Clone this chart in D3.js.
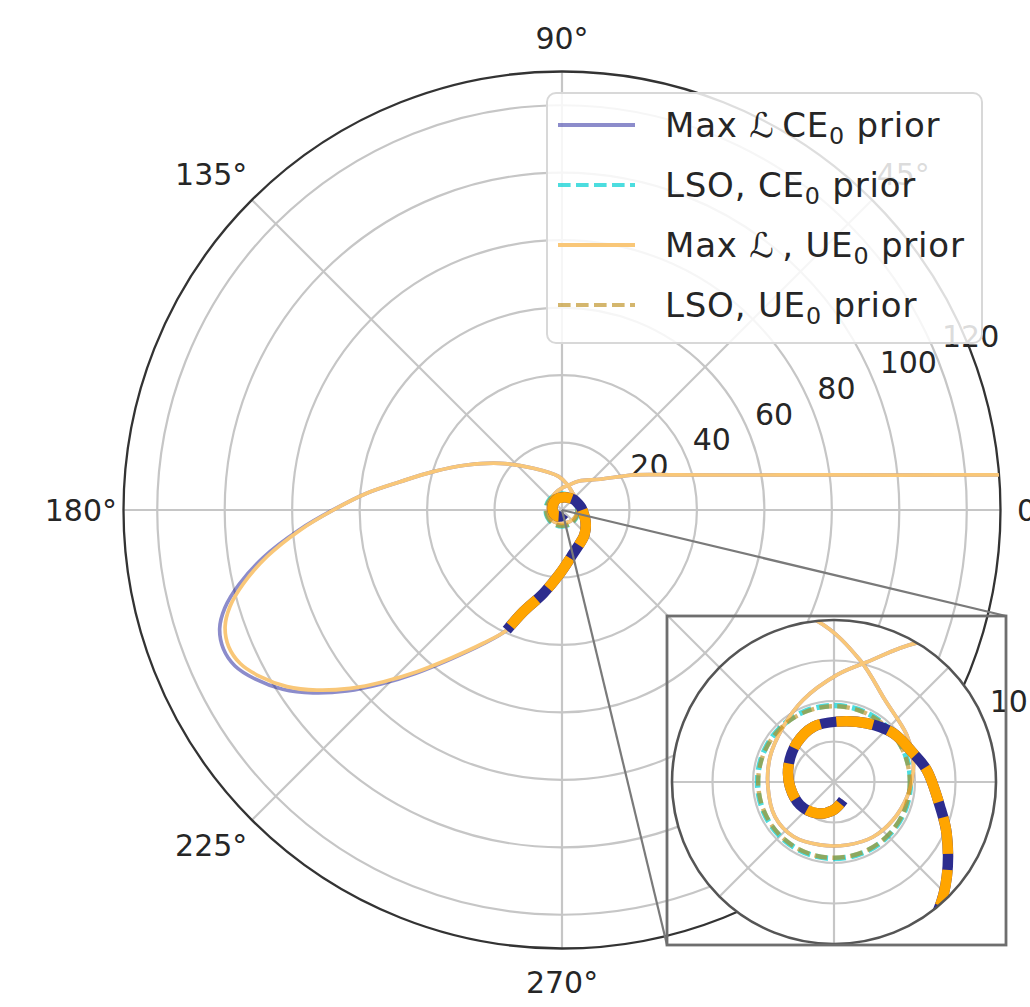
<!DOCTYPE html>
<html>
<head>
<meta charset="utf-8">
<script src="https://cdn.jsdelivr.net/npm/d3@7"></script>
<style>
  body { margin: 0; background: #fff; }
  svg { display: block; }
  text { font-family: "DejaVu Sans", sans-serif; fill: #262626; }
</style>
</head>
<body>
<svg id="chart" width="1030" height="1007"></svg>
<script>
// ---- axis ticks ----
const thetaTicks = [0, 45, 90, 135, 180, 225, 270, 315];
const thetaLabels = ["0°", "45°", "90°", "135°", "180°", "225°", "270°", "315°"];
const rTicks = [20, 40, 60, 80, 100, 120];
const rTickLabels = ["20", "40", "60", "80", "100", "120"];
const rMax = 130;

const insetRTicks = [2.5, 5, 7.5, 10];
const insetRLabelValues = [10];
const insetRLabels = ["10"];
const insetRMax = 10;

// ---- orbit before the plunge (angle in degrees, unwrapped; radius) ----
const ueOrbitTheta = [4.6, 5.95, 7.97, 11.97, 17.3, 25.7, 39, 59.2, 74.6, 88.4, 110.7, 132.8,
  158.7, 184.3, 210.7, 233.3, 257.5, 281.7, 305.3, 327.2, 348.4, 366.5, 378, 393, 418.1,
  438, 456, 484.5, 503, 514.7, 523.4, 530.1, 535.1, 540, 544.4, 549, 553, 556.2, 559.1,
  562.3, 565.5, 568.9, 572.7, 576.3, 580.1, 583.9, 588.1, 593, 599.4];
const ueOrbitR = [130, 100, 75, 50, 35, 24, 14.5, 10.0, 7.68, 6.61, 5.41, 4.63,
  4.24, 4.09, 4.23, 4.2, 3.98, 3.97, 4.16, 4.33, 4.6, 4.91, 5.12, 5.35, 5.96,
  7.7, 10.0, 15.0, 23.0, 31.2, 39.8, 48.7, 58.1, 67.8, 77.9, 88.6, 96.9, 102.5, 105.7,
  106.8, 105.7, 102.2, 96.9, 90.2, 82.1, 73.4, 64.4, 55.1, 45.9];

const ceOrbitTheta = [4.6, 5.95, 7.97, 11.97, 17.3, 25.7, 39, 59.2, 74.6, 88.4, 110.7, 132.8,
  158.7, 184.3, 210.7, 233.3, 257.5, 281.7, 305.3, 327.2, 348.4, 366.5, 378, 393, 418.1,
  438, 456, 484.5, 503, 514.7, 523.4, 530.1, 535.1, 540, 544.4, 549, 553, 556.2, 559.1,
  562.3, 565.5, 568.9, 572.7, 576.3, 580.1, 583.9, 588.1, 593, 599.4];
const ceOrbitR = [130, 100, 75, 50, 35, 24, 14.5, 10.0, 7.68, 6.61, 5.41, 4.63,
  4.24, 4.09, 4.23, 4.2, 3.98, 3.97, 4.16, 4.33, 4.6, 4.91, 5.12, 5.35, 5.96,
  7.7, 10.0, 15.0, 23.0, 31.2, 39.8, 48.7, 58.1, 67.9, 78.3, 89.6, 98.3, 104.1, 107.4,
  108.5, 107.4, 103.8, 98.4, 91.6, 83.3, 74.4, 65.1, 55.6, 46.2];

// ---- plunge ----
const plungeTheta = [605.3, 609.2, 617.4, 628.2, 644.6, 669.2, 680, 695.5, 706.9, 727.4,
  739.9, 759.4, 780.9, 807.4, 830.5, 854, 881.5, 906, 934, 961, 988.6, 1017];
const plungeR = [39.2, 32.2, 25.3, 18.8, 13.3, 10.19, 9.09, 7.64, 6.72, 5.77,
  5.20, 4.74, 4.15, 3.73, 3.64, 3.32, 2.97, 2.73, 2.53, 2.21, 1.73, 1.25];

// ---- last stable orbit radii ----
const lsoCE = 4.72;
const lsoUE = 4.68;

// legend entries: text runs, "0" is set as a subscript
const legendLabels = [
  ["Max ", "ℒ", "\u2009CE", "0", " prior"],
  ["LSO, CE", "0", " prior"],
  ["Max ", "ℒ", "\u2009, UE", "0", " prior"],
  ["LSO, UE", "0", " prior"]
];

// ---- styling ----
const colBlue = "rgba(0,0,139,0.45)";
const colOrange = "#f9c778";
const colCyan = "rgba(0,206,209,0.7)";
const colGold = "rgba(184,134,11,0.6)";
const colGrid = "#c6c6c6";
const lwThin = 3.7;
const lwThick = 10.5;

const svg = d3.select("#chart");
const defs = svg.append("defs");

const toPts = (th, r) => th.map((t, i) => ({ t, r: r[i] }));
const ue = toPts(ueOrbitTheta.concat(plungeTheta), ueOrbitR.concat(plungeR));
const ce = toPts(ceOrbitTheta.concat(plungeTheta), ceOrbitR.concat(plungeR));
const plunge = toPts(plungeTheta, plungeR);

function polarPanel(g, scale, rmax, ringVals, clipId, bgWhite, spineColor, spineWidth) {
  defs.append("clipPath").attr("id", clipId)
    .append("circle").attr("r", scale(rmax));
  if (bgWhite) g.append("circle").attr("r", scale(rmax)).attr("fill", "#fff");
  const grid = g.append("g");
  grid.selectAll("circle.ring").data(ringVals.filter(v => v < rmax)).join("circle")
    .attr("class", "ring").attr("r", d => scale(d))
    .attr("fill", "none").attr("stroke", colGrid).attr("stroke-width", 2.2);
  grid.selectAll("line.spoke").data(thetaTicks).join("line")
    .attr("class", "spoke")
    .attr("x1", 0).attr("y1", 0)
    .attr("x2", d => scale(rmax) * Math.cos(d * Math.PI / 180))
    .attr("y2", d => -scale(rmax) * Math.sin(d * Math.PI / 180))
    .attr("stroke", colGrid).attr("stroke-width", 2.2);
  return () => g.append("circle").attr("r", scale(rmax))
    .attr("fill", "none").attr("stroke", spineColor).attr("stroke-width", spineWidth);
}

function drawCurves(g, scale, clipId) {
  const line = d3.lineRadial()
    .angle(d => Math.PI / 2 - d.t * Math.PI / 180)
    .radius(d => scale(d.r))
    .curve(d3.curveCatmullRom.alpha(0.5));
  const cg = g.append("g").attr("clip-path", `url(#${clipId})`);
  cg.append("path").attr("d", line(ce)).attr("fill", "none")
    .attr("stroke", colBlue).attr("stroke-width", lwThin);
  cg.append("circle").attr("r", scale(lsoCE)).attr("fill", "none")
    .attr("stroke", colCyan).attr("stroke-width", 5.5).attr("stroke-dasharray", "12.6 5.4");
  cg.append("path").attr("d", line(ue)).attr("fill", "none")
    .attr("stroke", colOrange).attr("stroke-width", lwThin);
  cg.append("circle").attr("r", scale(lsoUE)).attr("fill", "none")
    .attr("stroke", colGold).attr("stroke-width", 4.4).attr("stroke-dasharray", "12.6 5.4");
  cg.append("path").attr("d", line(plunge)).attr("fill", "none")
    .attr("stroke", "#2c2c8e").attr("stroke-width", lwThick);
  cg.append("path").attr("d", line(plunge)).attr("fill", "none")
    .attr("stroke", "#ffa500").attr("stroke-width", lwThick)
    .attr("stroke-dasharray", "37 16").attr("stroke-dashoffset", 47);
}

// ================= main polar axes =================
const cx = 562, cy = 510, R = 438.5;
const r = d3.scaleLinear().domain([0, rMax]).range([0, R]);
const main = svg.append("g").attr("transform", `translate(${cx},${cy})`);
const mainSpine = polarPanel(main, r, rMax, rTicks, "clipMain", false, "#333", 2.3);
mainSpine();

// angular labels
const fs = 30;
thetaTicks.forEach((t, i) => {
  const a = t * Math.PI / 180;
  const txt = main.append("text").text(thetaLabels[i])
    .attr("font-size", fs).attr("text-anchor", "middle").attr("dominant-baseline", "central");
  const w = txt.node().getComputedTextLength();
  const c = Math.cos(a), s = Math.sin(a);
  const x = c * (R + 6.5) + (Math.abs(c) > 0.3 ? Math.sign(c) * w / 2 : 0) + (c > 0.99 ? 10 : 0);
  const y = -s * (R + 29) - (Math.abs(s) > 0.3 ? Math.sign(s) * 4.5 : 0);
  txt.attr("x", x).attr("y", y);
});

// radial labels along 22.5°
const ra = 22.5 * Math.PI / 180;
main.selectAll("text.rlab").data(rTicks).join("text")
  .attr("class", "rlab")
  .attr("x", d => r(d) * Math.cos(ra) + 6)
  .attr("y", d => -r(d) * Math.sin(ra) - 8)
  .attr("font-size", fs)
  .text((d, i) => rTickLabels[i]);

// inset geometry + connectors to its box corners
const icx = 834, icy = 782, iR = 162;
const box = { x0: 667, y0: 616, x1: 1006, y1: 945 };
svg.append("line").attr("x1", cx).attr("y1", cy).attr("x2", box.x1).attr("y2", box.y0)
  .attr("stroke", "#7a7a7a").attr("stroke-width", 2.2);
svg.append("line").attr("x1", cx).attr("y1", cy).attr("x2", box.x0).attr("y2", box.y1)
  .attr("stroke", "#7a7a7a").attr("stroke-width", 2.2);

drawCurves(main, r, "clipMain");

// ================= legend =================
const leg = svg.append("g");
leg.append("rect").attr("x", 547).attr("y", 93).attr("width", 435).attr("height", 250)
  .attr("rx", 9).attr("fill", "rgba(255,255,255,0.84)")
  .attr("stroke", "#d8d8d8").attr("stroke-width", 2);
const legStyles = [
  { c: colBlue, dash: null },
  { c: colCyan, dash: "12.6 5.4" },
  { c: colOrange, dash: null },
  { c: colGold, dash: "12.6 5.4" }
];
const lfs = 34;
legendLabels.forEach((parts, i) => {
  const y = 125 + i * 60;
  const ln = leg.append("line").attr("x1", 558).attr("x2", 635).attr("y1", y).attr("y2", y)
    .attr("stroke", legStyles[i].c).attr("stroke-width", 4);
  if (legStyles[i].dash) ln.attr("stroke-dasharray", legStyles[i].dash);
  const t = leg.append("text").attr("x", 665).attr("y", y + 12)
    .attr("font-size", lfs).attr("letter-spacing", 0.8);
  let back = 0;
  parts.forEach(p => {
    if (p === "0") {
      t.append("tspan").attr("font-size", lfs * 0.7).attr("dy", 7).text("0");
      back = -7;
    } else {
      const sp = t.append("tspan").text(p);
      if (back) { sp.attr("dy", back); back = 0; }
    }
  });
});

// ================= inset polar axes =================
const ri = d3.scaleLinear().domain([0, insetRMax]).range([0, iR]);
const inset = svg.append("g").attr("transform", `translate(${icx},${icy})`);
const insetSpine = polarPanel(inset, ri, insetRMax, insetRTicks, "clipInset", true, "#555", 2.6);
drawCurves(inset, ri, "clipInset");
insetSpine();
inset.selectAll("text.irlab").data(insetRLabelValues).join("text")
  .attr("class", "irlab")
  .attr("x", d => ri(d) * Math.cos(ra) + 6)
  .attr("y", d => -ri(d) * Math.sin(ra) - 8)
  .attr("font-size", fs)
  .text((d, i) => insetRLabels[i]);

svg.append("rect").attr("x", box.x0).attr("y", box.y0)
  .attr("width", box.x1 - box.x0).attr("height", box.y1 - box.y0)
  .attr("fill", "none").attr("stroke", "#6e6e6e").attr("stroke-width", 2.8);
</script>
</body>
</html>
